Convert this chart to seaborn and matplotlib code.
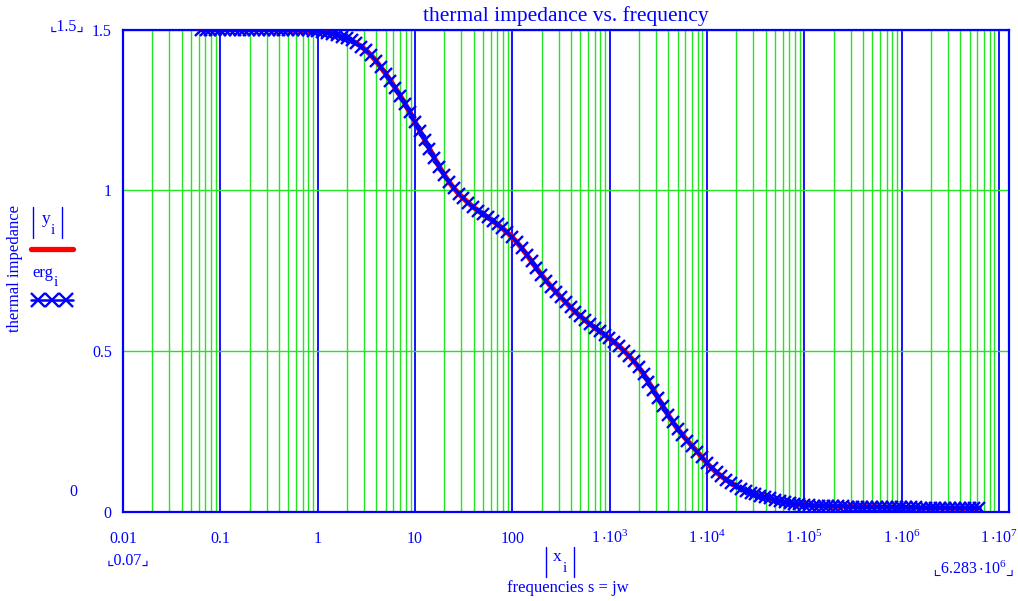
import matplotlib
matplotlib.use("Agg")
import matplotlib.pyplot as plt
from matplotlib.lines import Line2D
from matplotlib.ticker import FixedLocator, NullFormatter, LogLocator
import numpy as np
import pandas as pd
import seaborn as sns

# ****************** DATA ******************
# angular frequencies s = jw, 20 points per decade from 2*pi*0.01 to 2*pi*1e6
freq = [6.283e-2, 7.050e-2, 7.910e-2, 8.876e-2, 9.959e-2, 1.117e-1, 1.254e-1, 1.407e-1, 1.578e-1, 1.771e-1,
        1.987e-1, 2.229e-1, 2.501e-1, 2.807e-1, 3.149e-1, 3.533e-1, 3.964e-1, 4.448e-1, 4.991e-1, 5.600e-1,
        6.283e-1, 7.050e-1, 7.910e-1, 8.876e-1, 9.959e-1, 1.117, 1.254, 1.407, 1.578, 1.771,
        1.987, 2.229, 2.501, 2.807, 3.149, 3.533, 3.964, 4.448, 4.991, 5.600,
        6.283, 7.050, 7.910, 8.876, 9.959, 11.17, 12.54, 14.07, 15.78, 17.71,
        19.87, 22.29, 25.01, 28.07, 31.49, 35.33, 39.64, 44.48, 49.91, 56.00,
        62.83, 70.50, 79.10, 88.76, 99.59, 111.7, 125.4, 140.7, 157.8, 177.1,
        198.7, 222.9, 250.1, 280.7, 314.9, 353.3, 396.4, 444.8, 499.1, 560.0,
        628.3, 705.0, 791.0, 887.6, 995.9, 1117, 1254, 1407, 1578, 1771,
        1987, 2229, 2501, 2807, 3149, 3533, 3964, 4448, 4991, 5600,
        6283, 7050, 7910, 8876, 9959, 11170, 12540, 14070, 15780, 17710,
        19870, 22290, 25010, 28070, 31490, 35330, 39640, 44480, 49910, 56000,
        6.283e4, 7.050e4, 7.910e4, 8.876e4, 9.959e4, 1.117e5, 1.254e5, 1.407e5, 1.578e5, 1.771e5,
        1.987e5, 2.229e5, 2.501e5, 2.807e5, 3.149e5, 3.533e5, 3.964e5, 4.448e5, 4.991e5, 5.600e5,
        6.283e5, 7.050e5, 7.910e5, 8.876e5, 9.959e5, 1.117e6, 1.254e6, 1.407e6, 1.578e6, 1.771e6,
        1.987e6, 2.229e6, 2.501e6, 2.807e6, 3.149e6, 3.533e6, 3.964e6, 4.448e6, 4.991e6, 5.600e6,
        6.283e6]

# |y_i| : magnitude of the thermal impedance
y_abs = [1.500, 1.500, 1.500, 1.500, 1.500, 1.500, 1.500, 1.500, 1.500, 1.500,
         1.500, 1.500, 1.500, 1.500, 1.500, 1.499, 1.499, 1.499, 1.499, 1.498,
         1.498, 1.497, 1.497, 1.496, 1.495, 1.493, 1.490, 1.487, 1.483, 1.478,
         1.473, 1.466, 1.457, 1.447, 1.435, 1.420, 1.403, 1.383, 1.363, 1.340,
         1.318, 1.294, 1.269, 1.242, 1.214, 1.186, 1.158, 1.130, 1.101, 1.074,
         1.049, 1.027, 1.007, 0.990, 0.975, 0.961, 0.948, 0.937, 0.926, 0.916,
         0.905, 0.894, 0.882, 0.869, 0.855, 0.838, 0.820, 0.800, 0.779, 0.758,
         0.738, 0.719, 0.701, 0.684, 0.668, 0.652, 0.637, 0.622, 0.609, 0.596,
         0.584, 0.573, 0.562, 0.551, 0.540, 0.528, 0.515, 0.501, 0.486, 0.469,
         0.450, 0.429, 0.405, 0.380, 0.354, 0.328, 0.303, 0.280, 0.259, 0.240,
         0.222, 0.205, 0.188, 0.170, 0.152, 0.137, 0.123, 0.111, 0.100, 0.090,
         0.080, 0.073, 0.066, 0.060, 0.055, 0.050, 0.046, 0.042, 0.038, 0.034,
         0.031, 0.028, 0.026, 0.024, 0.022, 0.021, 0.020, 0.020, 0.019, 0.019,
         0.018, 0.018, 0.018, 0.017, 0.017, 0.017, 0.016, 0.016, 0.016, 0.016,
         0.015, 0.015, 0.015, 0.014, 0.014, 0.014, 0.014, 0.014, 0.013, 0.013,
         0.013, 0.013, 0.013, 0.013, 0.012, 0.012, 0.012, 0.012, 0.012, 0.012,
         0.012]

# erg_i : fitted result, lies on top of |y_i|
erg = list(y_abs)

x_ticks = [1e-2, 1e-1, 1, 10, 100, 1e3, 1e4, 1e5, 1e6, 1e7]
x_ticklabels = ['0.01', '0.1', '1', '10', '100',
                r'$1\,{\cdot}10^{3}$', r'$1\,{\cdot}10^{4}$', r'$1\,{\cdot}10^{5}$',
                r'$1\,{\cdot}10^{6}$', r'$1\,{\cdot}10^{7}$']
y_ticks = [0, 0.5, 1, 1.5]
y_ticklabels = ['0', '0.5', '1', '1.5']

df = pd.DataFrame({'freq': freq, 'y': y_abs, 'erg': erg})

# ****************** PLOT ******************
sns.set_style("white")
plt.rcParams['font.family'] = ['Liberation Serif', 'DejaVu Sans']
plt.rcParams['mathtext.fontset'] = 'custom'
plt.rcParams['mathtext.rm'] = 'Liberation Serif'
plt.rcParams['mathtext.it'] = 'Liberation Serif'
plt.rcParams['mathtext.default'] = 'regular'

blue = '#0000ff'
green = '#22e622'

fig = plt.figure(figsize=(10.18, 6.01), dpi=100)
ax = fig.add_axes([0.1208, 0.1481, 0.8703, 0.8028])

sns.lineplot(data=df, x='freq', y='y', color='red', linewidth=3.8, estimator=None, ax=ax, zorder=3)
sns.lineplot(data=df, x='freq', y='erg', color=blue, linewidth=1.8, marker='x', markersize=8.5,
             markeredgewidth=1.7, markeredgecolor=blue, estimator=None, ax=ax, zorder=4)

ax.set_xscale('log')
ax.set_xlim(1e-2, 1.267e7)
ax.set_ylim(0, 1.5)

ax.xaxis.set_major_locator(FixedLocator(x_ticks))
ax.xaxis.set_minor_locator(LogLocator(base=10, subs=np.arange(2, 10), numticks=30))
ax.xaxis.set_minor_formatter(NullFormatter())
ax.set_xticklabels(x_ticklabels, va='baseline')
ax.set_yticks(y_ticks)
ax.set_yticklabels(y_ticklabels)

ax.tick_params(axis='both', which='both', length=0, colors=blue, labelsize=11.5)
ax.tick_params(axis='x', pad=22)
ax.tick_params(axis='y', pad=8)

ax.set_axisbelow(True)
ax.grid(which='minor', axis='x', color=green, linewidth=1.0)
ax.grid(which='major', axis='x', color=blue, linewidth=1.3)
ax.grid(which='major', axis='y', color=green, linewidth=1.0)

for s in ax.spines.values():
    s.set_color(blue)
    s.set_linewidth(1.6)

ax.set_xlabel('')
ax.set_ylabel('')
ax.set_title('thermal impedance vs. frequency', color=blue, fontsize=15.5, pad=6)


def fx(px):
    return px / 1018


def fy(py):
    return 1 - py / 601


# Mathcad style labels and limit markers
fig.text(fx(15), fy(268), 'thermal impedance', rotation=90, color=blue, fontsize=12,
         ha='center', va='center')

# |y_i| with red line key
for bx in (33, 62):
    fig.add_artist(Line2D([fx(bx)] * 2, [fy(207), fy(238)], color=blue, linewidth=1.0))
fig.text(fx(46), fy(219), 'y', color=blue, fontsize=12.5, ha='center', va='center')
fig.text(fx(52.5), fy(230), 'i', color=blue, fontsize=11, ha='center', va='center')
fig.add_artist(Line2D([fx(31), fx(73)], [fy(249)] * 2, color='red', linewidth=3.8))

# erg_i with marker key
fig.text(fx(43), fy(273), 'erg', color=blue, fontsize=12, ha='center', va='center')
fig.text(fx(55.5), fy(283), 'i', color=blue, fontsize=11, ha='center', va='center')
fig.add_artist(Line2D([fx(31), fx(73)], [fy(300)] * 2, color=blue, linewidth=1.8))
fig.add_artist(Line2D([fx(38), fx(52), fx(66)], [fy(300)] * 3, color=blue, linestyle='none',
                      marker='x', markersize=10, markeredgewidth=1.7))

fig.text(fx(67), fy(27), '\u231e1.5\u231f', color=blue, fontsize=11.5, ha='center', va='center')
fig.text(fx(73), fy(492), '0', color=blue, fontsize=11.5, ha='center', va='center')
fig.text(fx(128), fy(561), '\u231e0.07\u231f', color=blue, fontsize=11.5, ha='center', va='center')
fig.text(fx(1014), fy(568), r'$\llcorner6.283\,{\cdot}10^{6}\lrcorner$', color=blue,
         fontsize=11.5, ha='right', va='center')

# |x_i| and axis caption
for bx in (546, 574):
    fig.add_artist(Line2D([fx(bx)] * 2, [fy(547), fy(577)], color=blue, linewidth=1.0))
fig.text(fx(557.5), fy(557), 'x', color=blue, fontsize=12.5, ha='center', va='center')
fig.text(fx(564.5), fy(568), 'i', color=blue, fontsize=11, ha='center', va='center')
fig.text(fx(568), fy(588), 'frequencies s = jw', color=blue, fontsize=12, ha='center', va='center')

fig.savefig('out.png', dpi=100)
